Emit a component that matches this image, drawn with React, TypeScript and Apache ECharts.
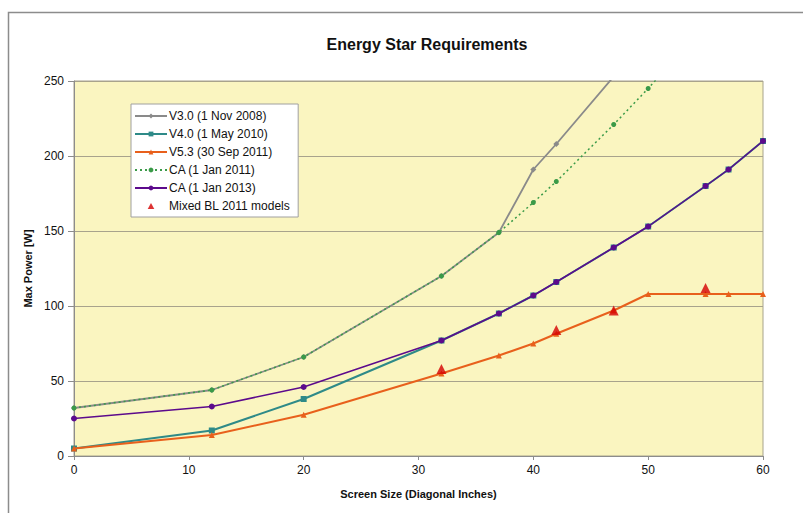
import React, { useEffect, useRef } from "react";
import * as echarts from "echarts";

const v30X = [0, 12, 20, 32, 37, 40, 42, 47];
const v30Y = [32, 44, 66, 120, 149, 191, 208, 253];
const v40X = [0, 12, 20, 32, 37, 40, 42, 47, 50, 55, 57, 60];
const v40Y = [5, 17, 38, 77, 95, 107, 116, 139, 153, 180, 191, 210];
const v53X = [0, 12, 20, 32, 37, 40, 42, 47, 50, 55, 57, 60];
const v53Y = [5, 14, 27.5, 55, 67, 75, 81.5, 97, 108, 108, 108, 108];
const ca11X = [0, 12, 20, 32, 37, 40, 42, 47, 50, 55];
const ca11Y = [32, 44, 66, 120, 149, 169, 183, 221, 245, 287];
const ca13X = [0, 12, 20, 32, 37, 40, 42, 47, 50, 55, 57, 60];
const ca13Y = [25, 33, 46, 77, 95, 107, 116, 139, 153, 180, 191, 210];
const blX = [32, 42, 47, 55];
const blY = [58, 84, 97, 112];

const seriesNames = [
  "V3.0 (1 Nov 2008)",
  "V4.0 (1 May 2010)",
  "V5.3 (30 Sep 2011)",
  "CA (1 Jan 2011)",
  "CA (1 Jan 2013)",
  "Mixed BL 2011 models",
];
const xTicks = [0, 10, 20, 30, 40, 50, 60];
const yTicks = [0, 50, 100, 150, 200, 250];

const zip = (xs: number[], ys: number[]) => xs.map((x, i) => [x, ys[i]]);

export default function App() {
  const ref = useRef<HTMLDivElement>(null);
  useEffect(() => {
    if (!ref.current) return;
    const chart = echarts.init(ref.current, null, { renderer: "svg" });
    const font = "'Liberation Sans', Arial, sans-serif";
    chart.setOption({
      animation: false,
      backgroundColor: "#ffffff",
      textStyle: { fontFamily: font },
      title: {
        text: "Energy Star Requirements",
        left: 422,
        top: 31,
        textAlign: "center",
        textStyle: { fontFamily: font, fontSize: 16, fontWeight: "bold", color: "#111" },
      },
      graphic: [
        {
          type: "rect",
          shape: { x: 8.5, y: 12.5, width: 900, height: 600 },
          style: { fill: "none", stroke: "#8c8c8c", lineWidth: 1.5 },
          silent: true,
        },
      ],
      legend: {
        orient: "vertical",
        left: 131,
        top: 104,
        width: 163,
        padding: [6, 8, 5, 3],
        itemWidth: 32,
        itemHeight: 6,
        itemGap: 6,
        backgroundColor: "#ffffff",
        borderColor: "#a0a0a0",
        borderWidth: 1,
        textStyle: { fontFamily: font, fontSize: 12, color: "#111", padding: [0, 0, 0, -3] },
        data: [
          seriesNames[0],
          seriesNames[1],
          seriesNames[2],
          seriesNames[3],
          seriesNames[4],
          { name: seriesNames[5], icon: "path://M0,10 L5.5,0 L11,10 Z" },
        ],
      },
      grid: {
        left: 74,
        top: 81,
        width: 689,
        height: 375,
        show: true,
        backgroundColor: "#faf5c0",
        borderColor: "#a8a38c",
        borderWidth: 1,
      },
      xAxis: {
        type: "value",
        min: 0,
        max: 60,
        interval: 10,
        name: "Screen Size (Diagonal Inches)",
        nameLocation: "middle",
        nameGap: 32,
        nameTextStyle: { fontFamily: font, fontSize: 11, fontWeight: "bold", color: "#111" },
        axisLine: { show: true, lineStyle: { color: "#8c8c8c", width: 1 } },
        axisTick: { show: true, length: 4, lineStyle: { color: "#8c8c8c" } },
        axisLabel: {
          fontFamily: font,
          fontSize: 12,
          color: "#111",
          margin: 8,
          formatter: (v: number) => (xTicks.includes(v) ? String(v) : ""),
        },
        splitLine: { show: false },
      },
      yAxis: {
        type: "value",
        min: 0,
        max: 250,
        interval: 50,
        name: "Max Power [W]",
        nameLocation: "middle",
        nameGap: 34,
        nameRotate: 90,
        nameTextStyle: { fontFamily: font, fontSize: 11, fontWeight: "bold", color: "#111" },
        axisLine: { show: true, lineStyle: { color: "#8c8c8c", width: 1 } },
        axisTick: { show: true, length: 6, lineStyle: { color: "#8c8c8c" } },
        axisLabel: {
          fontFamily: font,
          fontSize: 12,
          color: "#111",
          margin: 10,
          formatter: (v: number) => (yTicks.includes(v) ? String(v) : ""),
        },
        splitLine: { show: true, lineStyle: { color: "#a8a38c", width: 1 } },
      },
      series: [
        {
          name: seriesNames[0],
          type: "line",
          data: zip(v30X, v30Y),
          symbol: "diamond",
          symbolSize: 6,
          color: "#8a8a8a",
          lineStyle: { width: 1.8, color: "#8a8a8a" },
          itemStyle: { color: "#8a8a8a" },
          clip: true,
          z: 2,
        },
        {
          name: seriesNames[1],
          type: "line",
          data: zip(v40X, v40Y),
          symbol: "rect",
          symbolSize: 6,
          color: "#2e8a88",
          lineStyle: { width: 2, color: "#2e8a88" },
          itemStyle: { color: "#2e8a88" },
          z: 3,
        },
        {
          name: seriesNames[2],
          type: "line",
          data: zip(v53X, v53Y),
          symbol: "triangle",
          symbolSize: 6,
          color: "#e8601c",
          lineStyle: { width: 2, color: "#e8601c" },
          itemStyle: { color: "#e8601c" },
          z: 4,
        },
        {
          name: seriesNames[3],
          type: "line",
          data: zip(ca11X, ca11Y),
          symbol: "circle",
          symbolSize: 5,
          color: "#3a9a48",
          lineStyle: { width: 1.5, color: "#3a9a48", type: [2, 3] },
          itemStyle: { color: "#3a9a48" },
          clip: true,
          z: 5,
        },
        {
          name: seriesNames[4],
          type: "line",
          data: zip(ca13X, ca13Y),
          symbol: "circle",
          symbolSize: 6,
          color: "#5c0a8c",
          lineStyle: { width: 1.5, color: "#5c0a8c" },
          itemStyle: { color: "#5c0a8c" },
          z: 6,
        },
        {
          name: seriesNames[5],
          type: "scatter",
          data: zip(blX, blY),
          symbol: "triangle",
          symbolSize: 10,
          color: "#d40000",
          itemStyle: { color: "#d40000" },
          z: 7,
        },
      ],
    });
    return () => chart.dispose();
  }, []);
  return (
    <div
      ref={ref}
      style={{ position: "absolute", left: 0, top: 0, width: 803, height: 513 }}
    />
  );
}
